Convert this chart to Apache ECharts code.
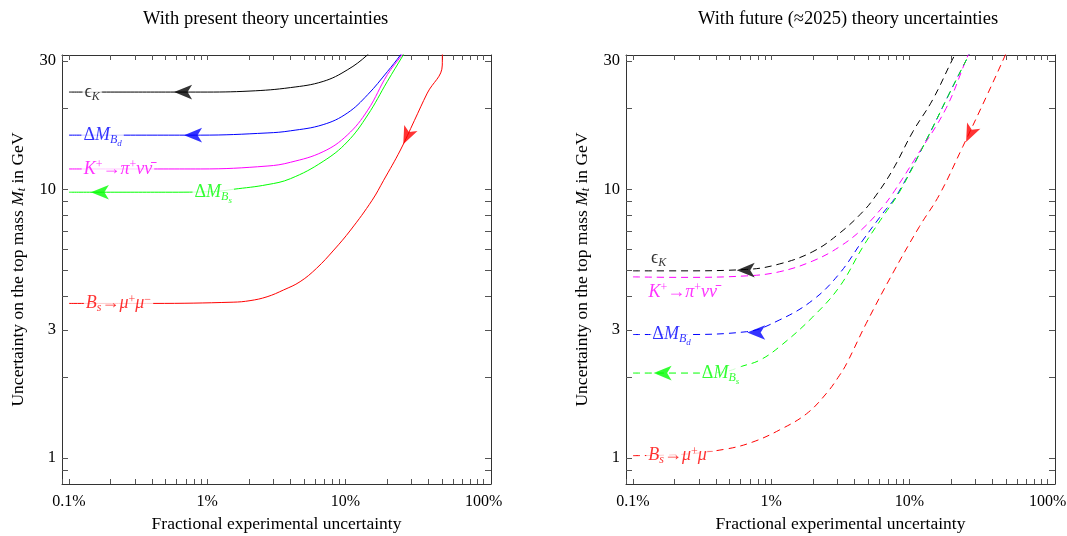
<!DOCTYPE html>
<html>
<head>
  <meta charset="UTF-8" />
  <title>Top mass uncertainty</title>
  <script src="https://cdn.jsdelivr.net/npm/echarts@6/dist/echarts.min.js"></script>
  <style>
    html, body { margin: 0; height: 100%; background: #fff; }
    #main { width: 1067px; height: 536px; }
  </style>
</head>
<body>
  <div id="main"></div>
  <script>
    const chart = echarts.init(document.getElementById('main'));

    // ticks and labels
    const xTickValues = [0.09, 0.1, 0.2, 0.3, 0.4, 0.5, 0.6, 0.7, 0.8, 0.9, 1, 2, 3, 4, 5, 6, 7, 8, 9, 10, 20, 30, 40, 50, 60, 70, 80, 90, 100];
    const yTickValues = [0.9, 1, 2, 3, 4, 5, 6, 7, 8, 9, 10, 20, 30];
    const xLabelValues = [0.1, 1, 10, 100];
    const yLabelValues = [1, 3, 10, 30];

    // present theory uncertainties (x in %, y in GeV)
    const presEpsX = [0.1, 0.5, 0.89, 2.04, 4.0, 6.9, 10.3, 14.4, 16];
    const presEpsY = [23, 23, 23.0, 23.2, 23.9, 25.2, 27.8, 31.6, 34];
    const presBdX = [0.1, 0.89, 2.71, 4.0, 6.9, 10.3, 14.5, 20.1, 25.0, 28];
    const presBdY = [15.9, 15.9, 16.2, 16.5, 17.4, 19.2, 22.5, 27.4, 31.6, 34.5];
    const presKX = [0.1, 0.89, 2.71, 4.0, 6.9, 10.3, 14.5, 20.1, 25.6, 28];
    const presKY = [11.9, 11.9, 12.2, 12.6, 13.8, 15.9, 19.7, 26.7, 31.6, 34];
    const presBsX = [0.1, 0.5, 1.1, 1.55, 2.71, 4.0, 6.9, 10.3, 14.5, 20.1, 26.2, 28];
    const presBsY = [9.75, 9.75, 9.8, 10.0, 10.4, 10.95, 12.7, 15.0, 18.9, 25.2, 31.6, 33.5];
    const presMuX = [0.1, 0.406, 1.54, 2.04, 2.71, 3.57, 4.7, 6.18, 8.24, 10.9, 15.6, 18.9, 25.0, 31.5, 39.1, 50.2, 50.3];
    const presMuY = [3.76, 3.76, 3.80, 3.85, 3.98, 4.22, 4.53, 5.08, 5.94, 7.05, 9.1, 10.8, 14.0, 18.0, 22.8, 29.0, 40];

    // future (~2025) theory uncertainties
    const futEpsX = [0.1, 0.218, 0.661, 1.144, 2.0, 3.12, 4.61, 5.74, 7.56, 10.6, 14.7, 20.4, 23];
    const futEpsY = [4.97, 4.97, 5.03, 5.27, 5.86, 6.86, 8.26, 9.5, 11.8, 16.4, 21.5, 30.3, 34];
    const futKX = [0.1, 0.218, 0.661, 1.144, 2.0, 3.12, 4.61, 6.42, 7.59, 11.2, 18.4, 26.6, 29];
    const futKY = [4.72, 4.70, 4.76, 4.93, 5.41, 6.11, 7.15, 8.61, 9.66, 13.2, 20.0, 31.6, 34];
    const futBdX = [0.1, 0.218, 0.661, 1.144, 2.0, 3.12, 4.61, 6.42, 8.1, 13.3, 19.5, 26.9, 29];
    const futBdY = [2.88, 2.88, 2.95, 3.26, 3.87, 4.86, 6.47, 8.14, 9.5, 15.3, 22.8, 31.6, 34];
    const futBsX = [0.1, 0.3, 0.45, 0.624, 0.824, 1.144, 2.0, 3.12, 4.61, 6.42, 8.5, 13.3, 19.5, 26.9, 29];
    const futBsY = [2.07, 2.07, 2.09, 2.2, 2.31, 2.59, 3.35, 4.34, 6.11, 7.91, 9.8, 15.3, 22.8, 31.6, 34];
    const futMuX = [0.1, 0.218, 0.474, 0.737, 1.144, 1.80, 2.51, 3.12, 3.52, 4.87, 7.56, 11.8, 16.4, 24.3, 36.0, 49.4, 55];
    const futMuY = [1.02, 1.03, 1.08, 1.147, 1.27, 1.46, 1.74, 2.03, 2.25, 3.17, 4.86, 7.26, 9.5, 14.4, 22.1, 31.6, 36];

    // arrow markers: position and direction (deg)
    const presArrowX = [0.576, 0.68, 0.144, 26.2];
    const presArrowY = [23, 15.9, 9.75, 14.7];
    const futArrowX = [0.563, 0.67, 0.141, 25.7];
    const futArrowY = [5.0, 2.93, 2.07, 15.0];
    const arrowAngles = [90, 90, 90, 155];

    // curve labels
    const labelTexts = [
      '{r|ϵ}{sub|K}',
      '{r|Δ}{i|M}{sub|B}{subsub|d}',
      '{i|K}{sup|+}{r|→}{i|π}{sup|+}{i|νν\u0304}',
      '{r|Δ}{i|M}{sub|B}{subsub|s}',
      '{i|B}{sub|s}{r|→}{i|μ}{sup|+}{i|μ}{sup|−}'
    ];
    const presLabelX = [0.147, 0.175, 0.226, 1.105, 0.228];
    const presLabelY = [23, 15.9, 11.9, 9.75, 3.76];
    const futLabelX = [0.153, 0.19, 0.229, 0.43, 0.222];
    const futLabelY = [5.55, 2.88, 4.14, 2.07, 1.02];

    const colors = ['#000000', '#0000ff', '#ff00ff', '#00ff00', '#ff0000'];
    const serif = '"Liberation Serif", "DejaVu Serif", serif';

    const pairs = (xs, ys) => xs.map((x, i) => [x, ys[i]]);
    const fmtPct = v => +(+v).toPrecision(3) + '%';

    function xAxisOf(grid, pos) {
      const bottom = pos === 'bottom';
      return {
        type: 'log', logBase: 10, gridIndex: grid, position: pos,
        min: 0.089, max: 113,
        axisLine: { show: true, onZero: false, lineStyle: { color: '#333', width: 1 } },
        axisTick: { show: true, inside: true, length: 5, customValues: xTickValues, lineStyle: { color: '#555' } },
        axisLabel: {
          show: bottom, customValues: xLabelValues, formatter: fmtPct, margin: 10,
          color: '#000', fontFamily: serif, fontSize: 16
        },
        splitLine: { show: false },
        minorTick: { show: false },
        name: bottom ? 'Fractional experimental uncertainty' : '',
        nameLocation: 'middle', nameGap: 31,
        nameTextStyle: { color: '#000', fontFamily: serif, fontSize: 17.5 }
      };
    }

    function yAxisOf(grid, pos) {
      const left = pos === 'left';
      return {
        type: 'log', logBase: 10, gridIndex: grid, position: pos,
        min: 0.8, max: 31.6,
        axisLine: { show: true, onZero: false, lineStyle: { color: '#333', width: 1 } },
        axisTick: { show: true, inside: true, length: 6, customValues: yTickValues, lineStyle: { color: '#555' } },
        axisLabel: {
          show: left, customValues: yLabelValues, formatter: v => String(+(+v).toPrecision(3)), margin: 6,
          color: '#000', fontFamily: serif, fontSize: 16.5
        },
        splitLine: { show: false },
        minorTick: { show: false },
        name: left ? 'Uncertainty on the top mass {i|M}{sub|t} in GeV' : '',
        nameLocation: 'middle', nameGap: 34,
        nameTextStyle: {
          color: '#000', fontFamily: serif, fontSize: 17.5,
          rich: {
            i: { fontStyle: 'italic', fontSize: 17.5, fontFamily: serif },
            sub: { fontStyle: 'italic', fontSize: 12, fontFamily: serif, padding: [8, 0, 0, 0] }
          }
        }
      };
    }

    const rich = {
      r: { fontSize: 18, fontFamily: serif },
      i: { fontSize: 18, fontFamily: serif, fontStyle: 'italic' },
      sub: { fontSize: 12, fontFamily: serif, fontStyle: 'italic', padding: [9, 0, 0, 0] },
      subsub: { fontSize: 9, fontFamily: serif, fontStyle: 'italic', padding: [17, 0, 0, 0] },
      sup: { fontSize: 12, fontFamily: serif, padding: [0, 0, 8, 0] }
    };

    function curve(grid, xs, ys, color, dashed) {
      return {
        type: 'line', xAxisIndex: grid * 2, yAxisIndex: grid * 2,
        data: pairs(xs, ys), showSymbol: false, symbol: 'none',
        smooth: 0.4,
        clip: true, z: 2, silent: true,
        lineStyle: { color: color, width: 1, type: dashed ? [7, 5] : 'solid' }
      };
    }

    function labels(grid, xs, ys) {
      return {
        type: 'scatter', xAxisIndex: grid * 2, yAxisIndex: grid * 2,
        symbolSize: 0, z: 5, silent: true,
        data: xs.map((x, i) => ({
          value: [x, ys[i]],
          label: {
            show: true, position: 'inside', formatter: labelTexts[i], color: colors[i],
            fontFamily: serif, fontSize: 18, backgroundColor: '#fff', padding: [0, 2], rich: rich
          }
        }))
      };
    }

    function arrows(grid, xs, ys) {
      return {
        type: 'scatter', xAxisIndex: grid * 2, yAxisIndex: grid * 2,
        symbol: 'arrow', symbolSize: [11, 18], z: 6, silent: true,
        data: xs.map((x, i) => ({
          value: [x, ys[i]],
          symbolRotate: arrowAngles[i],
          itemStyle: { color: colors[[0, 1, 3, 4][i]] }
        }))
      };
    }

    const presCurves = [[presEpsX, presEpsY], [presBdX, presBdY], [presKX, presKY], [presBsX, presBsY], [presMuX, presMuY]];
    const futCurves = [[futEpsX, futEpsY], [futBdX, futBdY], [futKX, futKY], [futBsX, futBsY], [futMuX, futMuY]];

    const titleStyle = { fontFamily: serif, fontSize: 18.5, fontWeight: 'normal', color: '#000' };

    chart.setOption({
      backgroundColor: '#fff',
      animation: false,
      title: [
        { text: 'With present theory uncertainties', left: 143, top: 10, padding: 0, textStyle: titleStyle },
        { text: 'With future (≈2025) theory uncertainties', left: 698, top: 10, padding: 0, textStyle: titleStyle }
      ],
      grid: [
        { left: 62, right: 576, top: 55, bottom: 52, outerBoundsMode: 'none', containLabel: false },
        { left: 626, right: 12, top: 55, bottom: 52, outerBoundsMode: 'none', containLabel: false }
      ],
      xAxis: [xAxisOf(0, 'bottom'), xAxisOf(0, 'top'), xAxisOf(1, 'bottom'), xAxisOf(1, 'top')],
      yAxis: [yAxisOf(0, 'left'), yAxisOf(0, 'right'), yAxisOf(1, 'left'), yAxisOf(1, 'right')],
      series: [
        ...presCurves.map((c, i) => curve(0, c[0], c[1], colors[i], false)),
        ...futCurves.map((c, i) => curve(1, c[0], c[1], colors[i], true)),
        labels(0, presLabelX, presLabelY),
        labels(1, futLabelX, futLabelY),
        arrows(0, presArrowX, presArrowY),
        arrows(1, futArrowX, futArrowY)
      ]
    });
  </script>
</body>
</html>
